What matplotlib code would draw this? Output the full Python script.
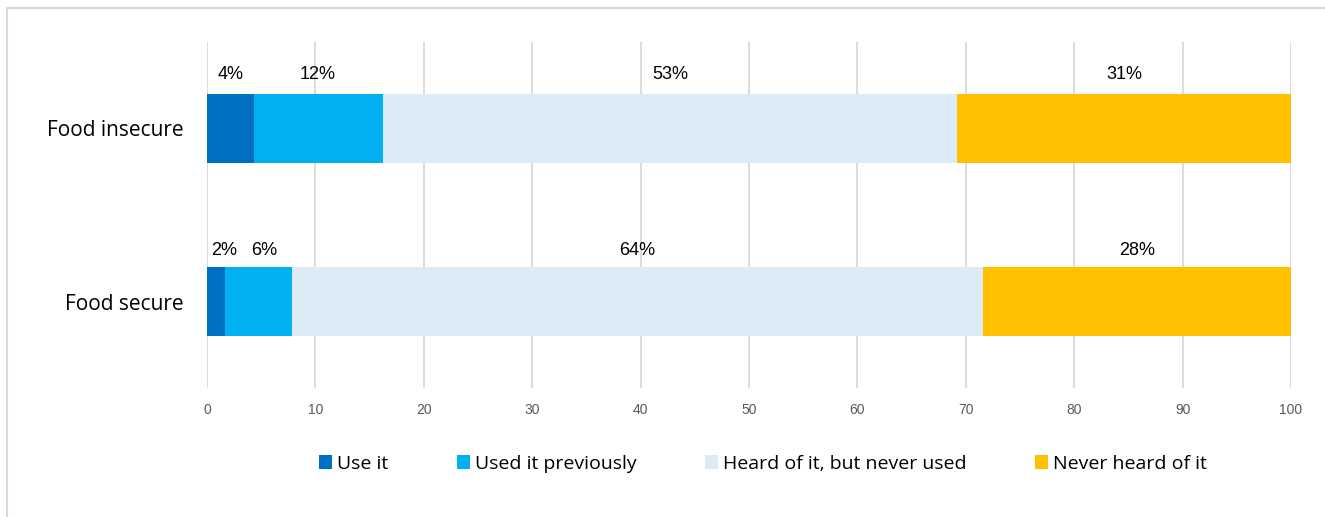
import matplotlib
matplotlib.use("Agg")
import matplotlib.pyplot as plt
from matplotlib.patches import Patch
from matplotlib.lines import Line2D
import numpy as np

categories = ["Food insecure", "Food secure"]
series_names = ["Use it", "Used it previously", "Heard of it, but never used", "Never heard of it"]
use_it = [4.3, 1.7]
used_previously = [11.9, 6.1]
heard_never_used = [53.0, 63.8]
never_heard = [30.8, 28.4]
xticks = [0, 10, 20, 30, 40, 50, 60, 70, 80, 90, 100]

colors = ["#0070C0", "#00B0F0", "#DDEBF7", "#FFC000"]
# small horizontal nudges (points) of data labels, per series then per category
label_nudge_pt = [[0, 6], [0, 4], [0, 0], [0, 0]]
label_rise_pt = [14, 11.5]

W, H = 1325, 517
fig = plt.figure(figsize=(W / 100, H / 100), dpi=100)
ax = fig.add_axes([207 / W, 1 - 388 / H, (1291 - 207) / W, (388 - 42) / H])

series = [use_it, used_previously, heard_never_used, never_heard]
ypos = np.arange(len(categories))
left = np.zeros(len(categories))
bar_h = 0.4
for si, (vals, col, name) in enumerate(zip(series, colors, series_names)):
    vals = np.array(vals)
    ax.barh(ypos, vals, left=left, height=bar_h, color=col, label=name, zorder=2)
    for yi, (l, v) in enumerate(zip(left, vals)):
        ax.annotate(f"{v:.0f}%", xy=(l + v / 2, yi - bar_h / 2),
                    xytext=(label_nudge_pt[si][yi], label_rise_pt[yi]),
                    textcoords="offset points", ha="center", va="center",
                    fontsize=13, family="Liberation Sans", color="#000000")
    left = left + vals

ax.set_xlim(0, 100)
ax.set_ylim(1.5, -0.5)
ax.set_xticks(xticks)
ax.set_yticks(ypos)
ax.set_yticklabels(categories, family="Open Sans", fontsize=15, color="#000000")
ax.tick_params(axis="y", length=0, pad=17)
ax.tick_params(axis="x", length=0, pad=11, labelsize=10, labelcolor="#595959")
for lab in ax.get_xticklabels():
    lab.set_family("Liberation Sans")
ax.grid(axis="x", color="#D9D9D9", linewidth=1.3, zorder=0)
ax.set_axisbelow(True)
for s in ax.spines.values():
    s.set_visible(False)

handles = [Patch(facecolor=c, edgecolor="none") for c in colors]
fig.legend(handles, series_names, loc="center", bbox_to_anchor=(763 / W, 1 - 464 / H),
           ncol=4, frameon=False, prop={"family": "Open Sans", "size": 14},
           handlelength=0.7, handleheight=0.7, handletextpad=0.25, columnspacing=3.5)

# outer frame (left and top edges)
fig.add_artist(Line2D([7.5 / W, 7.5 / W], [0, 1 - 7.5 / H], transform=fig.transFigure,
                      color="#D9D9D9", linewidth=1.5))
fig.add_artist(Line2D([7.5 / W, 1], [1 - 7.5 / H, 1 - 7.5 / H], transform=fig.transFigure,
                      color="#D9D9D9", linewidth=1.5))

fig.savefig("out.png", dpi=100)
